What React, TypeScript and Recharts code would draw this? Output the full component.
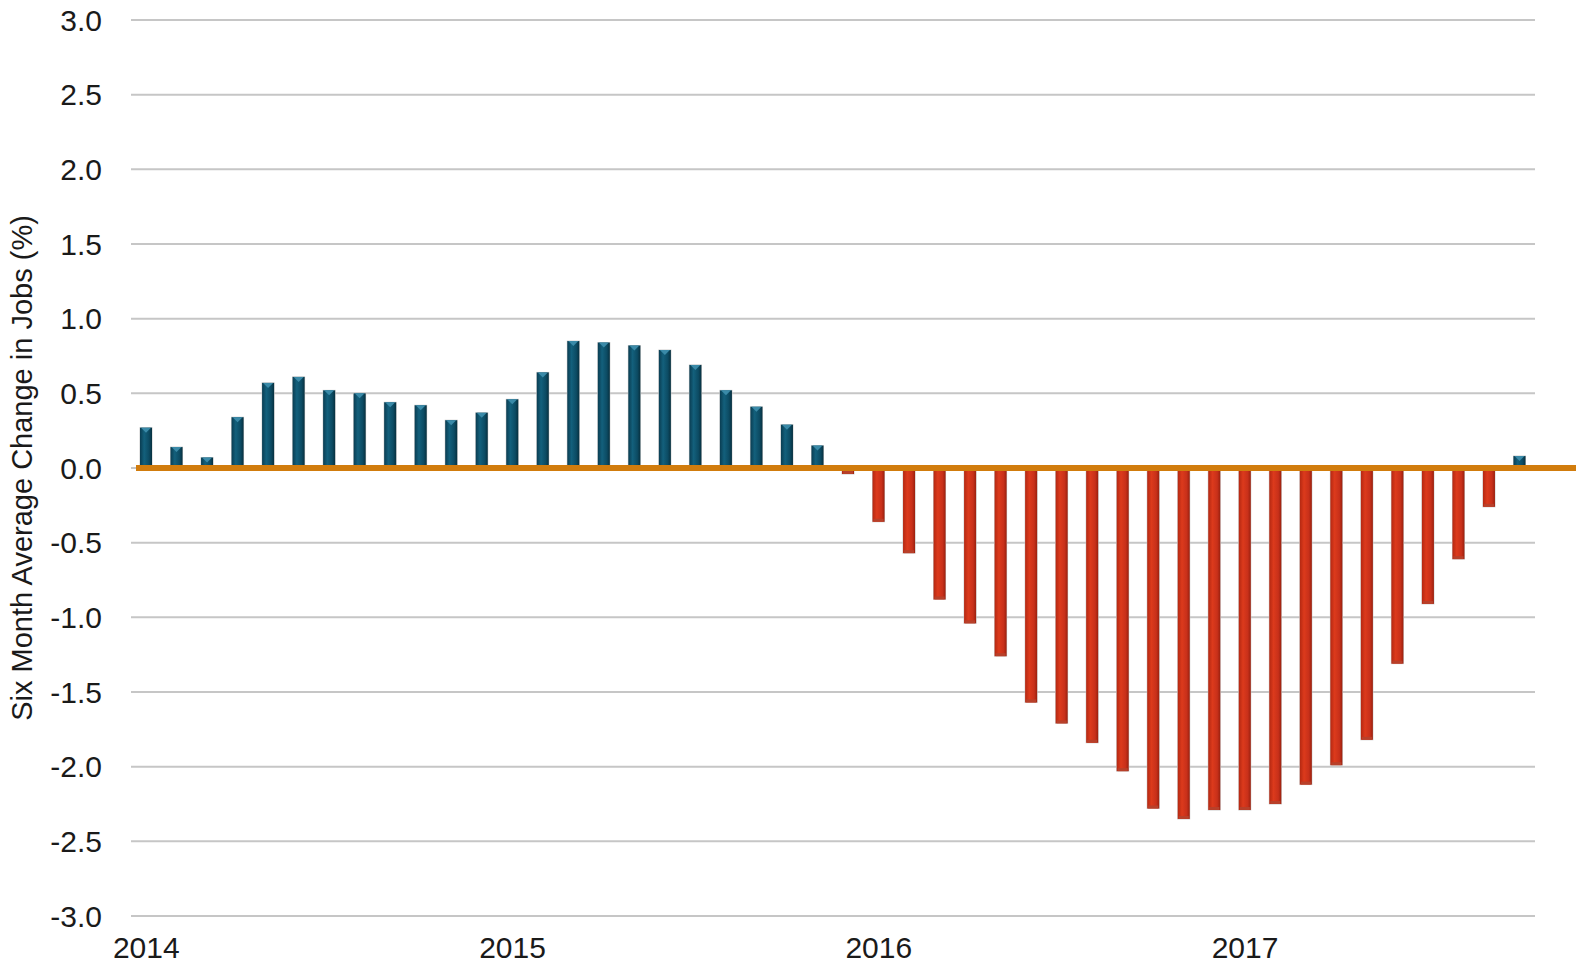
import React from 'react';
import { ComposedChart, Bar, XAxis, YAxis, CartesianGrid, ReferenceLine, Cell } from 'recharts';

const months: string[] = [
  '2014-01','2014-02','2014-03','2014-04','2014-05','2014-06','2014-07','2014-08','2014-09','2014-10','2014-11','2014-12',
  '2015-01','2015-02','2015-03','2015-04','2015-05','2015-06','2015-07','2015-08','2015-09','2015-10','2015-11','2015-12',
  '2016-01','2016-02','2016-03','2016-04','2016-05','2016-06','2016-07','2016-08','2016-09','2016-10','2016-11','2016-12',
  '2017-01','2017-02','2017-03','2017-04','2017-05','2017-06','2017-07','2017-08','2017-09','2017-10',
];

const jobChange: number[] = [
  0.27, 0.14, 0.07, 0.34, 0.57, 0.61, 0.52, 0.50, 0.44, 0.42, 0.32, 0.37,
  0.46, 0.64, 0.85, 0.84, 0.82, 0.79, 0.69, 0.52, 0.41, 0.29, 0.15, -0.04,
  -0.36, -0.57, -0.88, -1.04, -1.26, -1.57, -1.71, -1.84, -2.03, -2.28, -2.35, -2.29,
  -2.29, -2.25, -2.12, -1.99, -1.82, -1.31, -0.91, -0.61, -0.26, 0.08,
];

const yTicks: number[] = [-3, -2.5, -2, -1.5, -1, -0.5, 0, 0.5, 1, 1.5, 2, 2.5, 3];
const yLabel = 'Six Month Average Change in Jobs (%)';

const data = months.map((m, i) => ({ month: m, value: jobChange[i] }));

const FONT = 'Liberation Sans, Arial, sans-serif';

const BarShape = (props: any) => {
  const { x, y, width, height, payload } = props;
  const pos = payload.value >= 0;
  const top = Math.min(y, y + height);
  const h = Math.abs(height);
  const fill = pos ? 'url(#gradBlue)' : 'url(#gradRed)';
  return (
    <g>
      <rect x={x - 0.5} y={top - 0.5} width={width + 1} height={h + 1} fill="#c9c9c9" />
      <rect x={x} y={top} width={width} height={h} fill={fill} />
      {pos && h > 4 ? (
        <polygon
          points={`${x + 1},${top} ${x + width - 1},${top} ${x + width / 2},${top + 5}`}
          fill="#3a8aa8"
        />
      ) : null}
      {!pos && h > 4 ? (
        <rect x={x + 1} y={top + h - 3} width={width - 2} height={3} fill="#b8402a" />
      ) : null}
    </g>
  );
};

const ZeroLine = (props: any) => {
  const { x1, y1, x2 } = props;
  return <line x1={x1 + 5} y1={y1} x2={x2 + 41} y2={y1} stroke="#d17c0d" strokeWidth={6} />;
};

const YLabel = (props: any) => {
  const { viewBox } = props;
  const cy = viewBox.y + viewBox.height / 2;
  const cx = 22;
  return (
    <text
      x={cx}
      y={cy}
      transform={`rotate(-90, ${cx}, ${cy})`}
      textAnchor="middle"
      dominantBaseline="central"
      fontFamily={FONT}
      fontSize={29}
      fill="#1a1a1a"
    >
      {yLabel}
    </text>
  );
};

export default function App() {
  return (
    <div style={{ position: 'absolute', left: 0, top: 0, width: 1576, height: 966, background: '#fff' }}>
      <ComposedChart
        width={1576}
        height={966}
        data={data}
        margin={{ top: 20, right: 41, bottom: 0, left: 1 }}
        barCategoryGap={0}
      >
        <defs>
          <linearGradient id="gradBlue" x1="0" y1="0" x2="1" y2="0">
            <stop offset="0%" stopColor="#0a3d52" />
            <stop offset="35%" stopColor="#13607c" />
            <stop offset="75%" stopColor="#0c4b63" />
            <stop offset="100%" stopColor="#07303f" />
          </linearGradient>
          <linearGradient id="gradRed" x1="0" y1="0" x2="1" y2="0">
            <stop offset="0%" stopColor="#b42812" />
            <stop offset="35%" stopColor="#dc3a1c" />
            <stop offset="75%" stopColor="#c8301a" />
            <stop offset="100%" stopColor="#9a200e" />
          </linearGradient>
        </defs>
        <CartesianGrid vertical={false} stroke="#c6c6c6" strokeWidth={2} />
        <XAxis
          dataKey="month"
          interval={0}
          height={50}
          axisLine={false}
          tickLine={false}
          tickSize={0}
          tickMargin={21}
          tickFormatter={(m: string) => (m.endsWith('-01') ? m.slice(0, 4) : '')}
          tick={{ fontFamily: FONT, fontSize: 30, fill: '#1a1a1a' }}
        />
        <YAxis
          type="number"
          domain={[-3, 3]}
          ticks={yTicks}
          width={130}
          axisLine={false}
          tickLine={false}
          tickSize={0}
          tickMargin={29}
          tickFormatter={(v: number) => v.toFixed(1)}
          tick={{ fontFamily: FONT, fontSize: 30, fill: '#1a1a1a' }}
          label={{ content: <YLabel /> }}
        />
        <Bar dataKey="value" barSize={12} isAnimationActive={false} shape={<BarShape />}>
          {data.map((d, i) => (
            <Cell key={i} fill={d.value >= 0 ? '#0c4b63' : '#c8301a'} />
          ))}
        </Bar>
        <ReferenceLine y={0} shape={<ZeroLine />} ifOverflow="visible" />
      </ComposedChart>
    </div>
  );
}
